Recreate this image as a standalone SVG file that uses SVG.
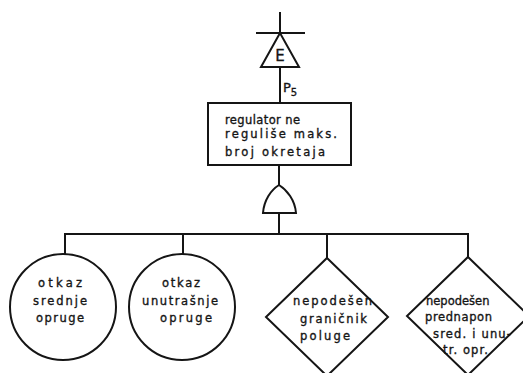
<svg xmlns="http://www.w3.org/2000/svg" width="523" height="373" viewBox="0 0 523 373">
  <style>
    .ln { stroke: #151515; stroke-width: 2; fill: none; stroke-linecap: square; }
    .sh { stroke: #151515; stroke-width: 2; fill: #ffffff; }
    .tx { font-family: "DejaVu Sans", "Liberation Sans", sans-serif; font-size: 11.5px; fill: #151515; stroke: #151515; stroke-width: 0.35; }
    .mid { text-anchor: middle; }
  </style>
  <rect width="523" height="373" fill="#ffffff"/>

  <!-- connectors -->
  <g id="connectors">
    <line class="ln" x1="280" y1="13" x2="280" y2="33"/>
    <line class="ln" x1="257" y1="33" x2="304" y2="33"/>
    <line class="ln" x1="280" y1="67" x2="280" y2="103"/>
    <line class="ln" x1="279" y1="165" x2="279" y2="185"/>
    <line class="ln" x1="279" y1="213" x2="279" y2="234"/>
    <line class="ln" x1="65" y1="234" x2="468" y2="234"/>
    <line class="ln" x1="65" y1="234" x2="65" y2="256"/>
    <line class="ln" x1="183" y1="234" x2="183" y2="256"/>
    <line class="ln" x1="327" y1="234" x2="327" y2="258"/>
    <line class="ln" x1="468" y1="234" x2="468" y2="257"/>
  </g>

  <!-- transfer triangle -->
  <g id="transfer">
    <polygon class="sh" points="280,33 261,67 299,67"/>
    <text class="tx mid" x="280" y="61" style="font-size:15px">E</text>
    <text class="tx" x="283" y="92" style="font-size:13px">P<tspan style="font-size:10px" dy="4">5</tspan></text>
  </g>

  <!-- top event -->
  <g id="top-event">
    <rect class="sh" x="208" y="103" width="143" height="62"/>
    <text class="tx" x="225" y="124" textLength="75" lengthAdjust="spacing">regulator ne</text>
    <text class="tx" x="225" y="138" textLength="112" lengthAdjust="spacing">reguliše maks.</text>
    <text class="tx" x="225" y="156" textLength="100" lengthAdjust="spacing">broj okretaja</text>
  </g>

  <!-- OR gate -->
  <g id="or-gate">
    <path class="sh" d="M263,213 C264,200 271,190 279,185 C287,190 295,200 296,213 Z"/>
  </g>

  <!-- basic events -->
  <g id="event-1">
    <circle class="sh" cx="63" cy="307" r="53"/>
    <text class="tx mid" x="60" y="287" textLength="44" lengthAdjust="spacing">otkaz</text>
    <text class="tx mid" x="60" y="305" textLength="54" lengthAdjust="spacing">srednje</text>
    <text class="tx mid" x="60" y="322" textLength="48" lengthAdjust="spacing">opruge</text>
  </g>
  <g id="event-2">
    <circle class="sh" cx="182" cy="307" r="53"/>
    <text class="tx mid" x="181" y="287" textLength="38" lengthAdjust="spacing">otkaz</text>
    <text class="tx mid" x="180" y="305" textLength="76" lengthAdjust="spacing">unutrašnje</text>
    <text class="tx mid" x="186" y="322" textLength="52" lengthAdjust="spacing">opruge</text>
  </g>

  <!-- undeveloped events -->
  <g id="event-3">
    <polygon class="sh" points="327,258 388,317 327,376 266,317"/>
    <text class="tx" x="293" y="305" textLength="79" lengthAdjust="spacing">nepodešen</text>
    <text class="tx" x="300" y="323" textLength="67" lengthAdjust="spacing">graničnik</text>
    <text class="tx" x="300" y="340" textLength="50" lengthAdjust="spacing">poluge</text>
  </g>
  <g id="event-4">
    <polygon class="sh" points="468,257 529,316 468,375 407,316"/>
    <text class="tx" x="426" y="305">nepodešen</text>
    <text class="tx" x="425" y="321" textLength="67" lengthAdjust="spacing">prednapon</text>
    <text class="tx" x="433" y="338" textLength="78" lengthAdjust="spacing">sred. i unu-</text>
    <text class="tx" x="443" y="354" textLength="45" lengthAdjust="spacing">tr. opr.</text>
  </g>
</svg>
